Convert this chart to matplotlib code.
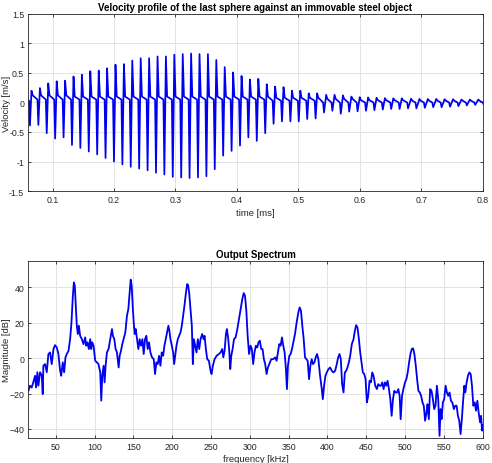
import numpy as np
import matplotlib
matplotlib.use("Agg")
import matplotlib.pyplot as plt

plt.rcParams['font.family'] = ['Liberation Sans', 'DejaVu Sans']

# ---------------- Velocity profile data (per impact pulse) ----------------
pulse_time = [0.0633, 0.0770, 0.0906, 0.1043, 0.1180, 0.1317, 0.1453, 0.1590, 0.1727, 0.1863,
              0.2000, 0.2137, 0.2273, 0.2410, 0.2547, 0.2684, 0.2820, 0.2957, 0.3094, 0.3230,
              0.3367, 0.3504, 0.3640, 0.3777, 0.3914, 0.4051, 0.4187, 0.4324, 0.4461, 0.4597,
              0.4734, 0.4871, 0.5007, 0.5144, 0.5281, 0.5418, 0.5554, 0.5691, 0.5828, 0.5964,
              0.6101, 0.6238, 0.6374, 0.6511, 0.6648, 0.6785, 0.6921, 0.7058, 0.7195, 0.7331,
              0.7468, 0.7605, 0.7741, 0.7878, 0.8015]
pulse_peak = [0.20, 0.245, 0.325, 0.36, 0.37, 0.44, 0.47, 0.53, 0.54, 0.58,
              0.64, 0.65, 0.71, 0.75, 0.75, 0.78, 0.78, 0.81, 0.82, 0.83,
              0.82, 0.82, 0.72, 0.60, 0.51, 0.45, 0.39, 0.40, 0.31, 0.27,
              0.26, 0.20, 0.20, 0.155, 0.155, 0.13, 0.13, 0.12, 0.10, 0.09,
              0.085, 0.08, 0.075, 0.07, 0.07, 0.065, 0.06, 0.06, 0.06, 0.055,
              0.055, 0.05, 0.05, 0.05, 0.05]
pulse_trough = [-0.39, -0.38, -0.52, -0.61, -0.59, -0.72, -0.77, -0.83, -0.88, -0.94,
                -1.00, -1.05, -1.09, -1.12, -1.15, -1.19, -1.22, -1.26, -1.27, -1.28,
                -1.27, -1.25, -1.13, -0.90, -0.82, -0.73, -0.59, -0.65, -0.52, -0.36,
                -0.32, -0.32, -0.32, -0.28, -0.27, -0.17, -0.14, -0.19, -0.155, -0.15,
                -0.14, -0.13, -0.12, -0.11, -0.11, -0.10, -0.10, -0.09, -0.08, -0.08,
                -0.07, -0.06, -0.05, -0.04, -0.035]
pulse_shelf = [0.12, 0.12, 0.12, 0.12, 0.12, 0.10, 0.10, 0.10, 0.10, 0.10,
               0.10, 0.10, 0.10, 0.10, 0.10, 0.10, 0.10, 0.10, 0.10, 0.10,
               0.10, 0.10, 0.10, 0.10, 0.10, 0.10, 0.10, 0.10, 0.10, 0.08,
               0.08, 0.08, 0.08, 0.08, 0.08, 0.06, 0.06, 0.06, 0.06, 0.04,
               0.04, 0.04, 0.04, 0.04, 0.04, 0.03, 0.03, 0.03, 0.03, 0.03,
               0.03, 0.03, 0.03, 0.03, 0.03]
pulse_pre = [0.03, 0.05, 0.05, 0.05, 0.05, 0.05, 0.05, 0.05, 0.05, 0.05,
             0.05, 0.05, 0.05, 0.05, 0.05, 0.05, 0.05, 0.05, 0.05, 0.05,
             0.05, 0.05, 0.05, 0.05, 0.05, 0.05, 0.05, 0.05, 0.05, 0.03,
             0.03, 0.03, 0.03, 0.03, 0.03, 0.00, 0.00, 0.00, 0.00, 0.00,
             0.00, 0.00, 0.00, 0.00, 0.00, 0.00, 0.00, 0.00, 0.00, 0.00,
             0.00, 0.00, 0.00, 0.00, 0.00]
# trough-to-peak rise time of each pulse [ms]
pulse_rise = [0.0025] * 35 + [0.0035] * 10 + [0.0050] * 10

# ---------------- Output spectrum data ----------------
spec_freq = [14.7, 16.8, 19.0, 21.0, 23.3, 24.6, 26.3, 27.6, 29.8, 32.0, 33.2, 34.0, 36.2, 38.4,
             40.5, 42.7, 44.8, 47.0, 49.0, 51.3, 53.4, 55.6, 57.0, 59.0, 60.8, 62.5, 64.2, 66.4,
             68.5, 70.2, 72.0, 73.3, 74.5, 75.8, 77.1, 78.4, 79.7, 81.4, 83.6, 85.7, 87.9, 89.2,
             90.9, 92.6, 94.4, 95.7, 97.0, 98.7, 100.8, 103.0, 105.0, 107.3, 108.6, 109.9, 111.6,
             112.9, 114.2, 115.9, 118.0, 120.2, 122.4, 123.6, 125.4, 127.1, 128.8, 131.0, 132.3,
             134.0, 135.7, 137.4, 139.6, 141.7, 143.5, 145.2, 146.5, 147.8, 149.1, 150.4, 151.7,
             153.0, 154.7, 156.4, 158.1, 159.8, 161.6, 163.3, 165.0, 166.7, 168.4, 170.2, 171.9,
             174.0, 176.2, 177.9, 179.6, 181.4, 183.1, 184.8, 186.5, 188.3, 190.0, 191.7, 193.4,
             195.1, 196.4, 197.7, 199.5, 201.2, 202.5, 203.8, 205.5, 207.2, 208.9, 210.7, 212.4,
             214.1, 215.8, 217.5, 219.3, 220.5, 221.8, 223.6, 225.3, 226.6, 227.9, 229.6, 231.3,
             233.0, 234.8, 236.5, 238.6, 240.4, 241.7, 243.4, 245.1, 247.3, 249.4, 250.7, 252.4,
             254.6, 257.2, 260.2, 262.3, 264.5, 265.8, 267.5, 269.2, 270.5, 272.2, 273.5, 274.8,
             276.1, 277.8, 279.6, 281.7, 283.9, 286.0, 288.2, 290.3, 292.1, 293.8, 295.5, 297.2,
             299.0, 300.9, 302.6, 304.3, 306.0, 307.8, 309.5, 311.2, 312.9, 314.7, 316.4, 318.1,
             319.8, 321.6, 323.3, 325.0, 327.6, 330.2, 332.8, 334.5, 336.2, 337.9, 339.7, 341.4,
             343.1, 344.8, 346.5, 347.8, 349.1, 350.9, 352.6, 354.3, 356.0, 358.2, 360.3, 362.5,
             364.2, 365.9, 367.6, 369.4, 371.1, 372.8, 374.5, 376.3, 378.0, 379.7, 381.4, 383.2,
             384.9, 386.6, 388.3, 390.5, 392.7, 394.0, 395.7, 397.4, 399.1, 401.3, 403.4, 405.6,
             407.7, 409.9, 412.0, 413.8, 415.5, 417.2, 418.9, 420.7, 422.4, 424.1, 425.8, 427.6,
             429.3, 431.4, 433.6, 435.3, 437.0, 438.7, 440.5, 442.2, 443.9, 445.6, 447.4, 449.1,
             450.8, 452.5, 454.2, 456.0, 457.7, 459.4, 461.6, 463.7, 465.4, 467.2, 468.9, 470.6,
             472.3, 474.1, 475.8, 477.5, 479.2, 481.0, 482.7, 484.4, 486.1, 487.9, 489.6, 491.3,
             493.0, 494.3, 496.1, 497.8, 499.9, 501.7, 503.4, 505.2, 506.9, 508.6, 510.3, 512.0,
             513.8, 515.5, 517.2, 518.9, 520.7, 522.4, 524.1, 525.8, 527.6, 528.9, 530.6, 532.3,
             534.1, 535.8, 537.5, 539.2, 541.0, 542.7, 544.4, 545.7, 547.0, 548.7, 550.4, 552.2,
             553.9, 555.6, 557.3, 559.1, 560.8, 562.9, 564.6, 566.4, 568.1, 569.8, 571.5, 573.3,
             574.6, 576.3, 577.6, 579.3, 581.0, 582.8, 584.5, 586.2, 587.9, 589.7, 591.4, 593.1,
             594.8, 596.6, 597.9, 599.2, 600.5]
spec_mag = [-18.5, -15.6, -16.6, -13.7, -10.0, -16.6, -8.0, -15.6, -8.0, -10.0, -20.3, -4.3, -3.4, -8.0,
            2.3, 3.2, -3.4, 5.0, 7.3, 6.0, 2.3, -7.0, -10.0, -2.4, -8.0, 0.4, 2.3, 4.1,
            10.7, 20.0, 35.0, 42.7, 40.9, 29.6, 18.3, 13.6, 18.3, 12.6, 10.7, 7.9, 11.7, 7.0,
            8.9, 5.1, 10.7, 5.1, 8.9, 7.0, -1.5, -2.4, -3.4, -8.0, -24.0, -10.0, -4.3,
            -13.7, -4.3, 3.2, 5.1, 10.7, 16.4, 12.6, 10.7, 5.1, 3.2, -5.3, 1.3,
            4.1, 7.9, 10.7, 14.5, 23.9, 27.7, 37.1, 44.3, 40.9, 29.6, 20.1, 13.6,
            16.4, 10.7, 5.1, 10.7, 7.0, 10.7, 2.3, 10.7, 12.6, 5.1, 8.9, 3.2,
            0.4, -0.6, -9.0, -2.4, -3.4, 1.3, -4.3, 3.2, 1.3, 7.0, 10.7, 14.5,
            18.3, 15.4, 10.7, 7.0, 3.2, -3.4, 1.3, 7.0, 10.7, 12.6, 14.5, 18.3,
            23.9, 29.6, 36.2, 41.8, 41.2, 37.1, 27.7, 18.3, -3.4, 10.7, 7.0, 3.2,
            10.7, 5.1, 10.7, 13.6, 10.7, 12.6, 5.1, -0.6, -1.5, -7.2, -9.0, -4.3,
            -0.6, 1.3, 2.3, 3.2, 5.1, 0.4, 4.1, 13.6, 16.4, 10.7, 4.1, -6.2,
            1.3, 5.1, 10.7, 11.7, 16.4, 22.0, 27.7, 33.3, 36.7, 35.2, 26.7, 12.6,
            2.3, 7.0, 5.1, -3.4, 3.2, 7.0, 6.0, 8.9, 9.8, 5.1, 5.1, -0.6,
            -3.4, -9.0, -5.3, -3.4, -0.6, -0.6, 0.4, -1.5, 3.2, 7.9, 7.0, 11.7,
            7.0, 3.2, -6.2, -17.5, -4.3, 1.3, 2.3, 5.1, 8.9, 13.6, 20.1, 25.8,
            28.6, 26.7, 18.3, 10.7, 0.4, -0.6, -1.5, -11.9, -4.3, -0.6, -3.4, -2.4,
            0.4, 2.3, -0.6, -10.0, -17.5, -23.2, -15.6, -10.0, -8.1, -6.2, -5.3, -7.2,
            -8.1, -7.2, -3.4, 0.4, 2.3, -0.6, -14.7, -19.4, -8.1, -7.2, -5.3, -2.4,
            1.3, 7.9, 10.7, 15.4, 18.6, 17.3, 10.7, 3.2, -2.4, -8.1, -9.0, -11.9,
            -25.0, -21.3, -12.8, -13.7, -8.1, -10.0, -15.6, -17.5, -14.7, -15.6, -15.6, -13.7,
            -17.5, -13.7, -15.6, -12.8, -17.5, -23.2, -32.6, -23.2, -18.5, -19.4, -19.4, -17.5,
            -21.3, -34.5, -21.3, -17.5, -13.7, -11.9, -8.1, -2.4, 2.3, 5.1, 5.5, 2.3,
            -4.3, -11.9, -18.5, -19.4, -21.3, -25.0, -26.9, -35.4, -30.7, -26.0, -34.5, -17.5,
            -18.5, -23.2, -28.8, -26.9, -15.6, -23.2, -43.9, -28.8, -34.5, -25.0, -23.2, -15.6,
            -19.4, -21.3, -19.4, -24.1, -25.0, -28.8, -26.9, -26.9, -32.6, -35.4, -42.9, -33.5,
            -25.0, -15.6, -19.4, -13.7, -10.0, -8.1, -9.0, -15.6, -26.9, -25.0, -29.7, -24.1,
            -30.7, -36.3, -32.6, -41.0, -38.0]

# ---------------- Build the velocity polyline from the pulse values ----------------
vel_t = []
vel_v = []
for i in range(len(pulse_time)):
    T = pulse_time[i]
    r = pulse_rise[i]
    vel_t += [T - 0.0015, T, T + r, T + r + 0.002]
    vel_v += [pulse_pre[i], pulse_trough[i], pulse_peak[i], pulse_shelf[i]]

line_color = '#0000f0'
txt_color = '#262626'
grid_color = '#e3e3e3'

fig = plt.figure(figsize=(4.92, 4.64), dpi=100)
ax1 = fig.add_axes([0.0575, 0.5862, 0.9236, 0.3815])
ax2 = fig.add_axes([0.0575, 0.0532, 0.9236, 0.3828])

ax1.plot(vel_t, vel_v, color=line_color, lw=1.25, solid_joinstyle='round')
ax1.set_xlim(0.0606, 0.8)
ax1.set_ylim(-1.5, 1.5)
ax1.set_xticks([0.1, 0.2, 0.3, 0.4, 0.5, 0.6, 0.7, 0.8])
ax1.set_xticklabels(['0.1', '0.2', '0.3', '0.4', '0.5', '0.6', '0.7', '0.8'])
ax1.set_yticks([-1.5, -1, -0.5, 0, 0.5, 1, 1.5])
ax1.set_yticklabels(['-1.5', '-1', '-0.5', '0', '0.5', '1', '1.5'])
ax1.set_title('Velocity profile of the last sphere against an immovable steel object',
              fontsize=7.0, fontweight='bold', color='black', pad=3)
ax1.set_xlabel('time [ms]', fontsize=6.8, color=txt_color, labelpad=3)
ax1.set_ylabel('Velocity [m/s]', fontsize=6.8, color=txt_color)
ax1.yaxis.set_label_coords(-0.039, 0.5)

ax2.plot(spec_freq, spec_mag, color=line_color, lw=1.3, solid_joinstyle='round')
ax2.set_xlim(14.6, 600)
ax2.set_ylim(-45.3, 55)
ax2.set_xticks([50, 100, 150, 200, 250, 300, 350, 400, 450, 500, 550, 600])
ax2.set_yticks([-40, -20, 0, 20, 40])
ax2.set_title('Output Spectrum', fontsize=7.0, fontweight='bold', color='black', pad=3)
ax2.set_xlabel('frequency [kHz]', fontsize=6.8, color=txt_color, labelpad=2)
ax2.set_ylabel('Magnitude [dB]', fontsize=6.8, color=txt_color)
ax2.yaxis.set_label_coords(-0.039, 0.5)

for ax in (ax1, ax2):
    ax.grid(True, color=grid_color, lw=0.7)
    ax.set_axisbelow(True)
    ax.tick_params(direction='in', length=2.5, width=0.6, labelsize=6.3,
                   colors=txt_color, top=True, right=True, pad=3)
    for s in ax.spines.values():
        s.set_color(txt_color)
        s.set_linewidth(0.6)

fig.savefig('out.png', dpi=100)
